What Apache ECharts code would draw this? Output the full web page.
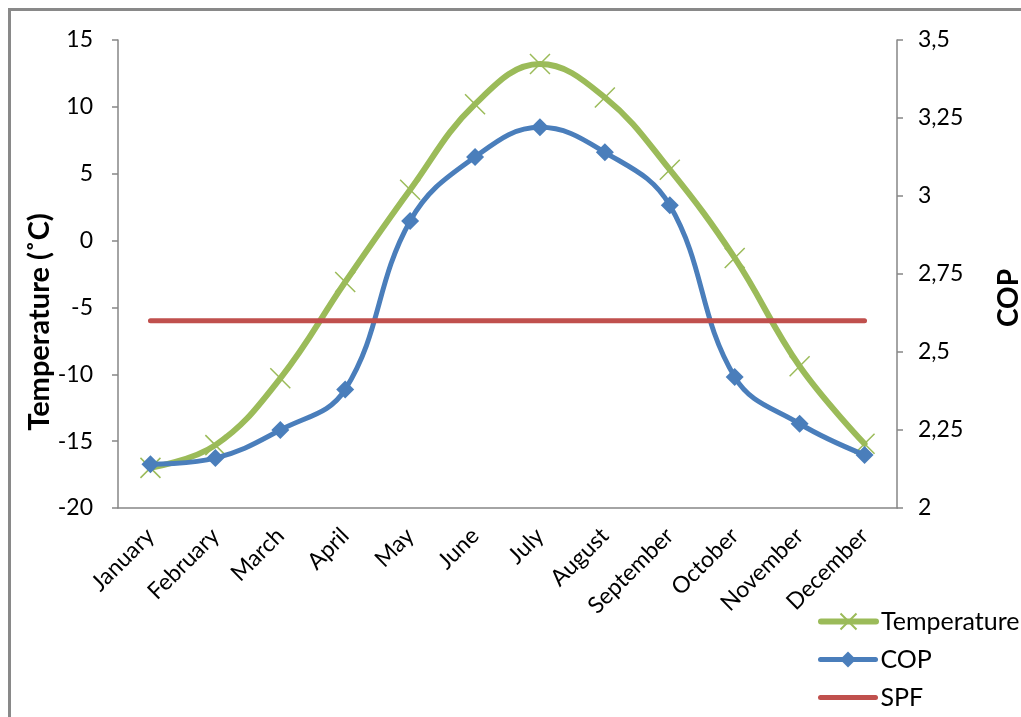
<!DOCTYPE html>
<html>
<head>
<meta charset="utf-8">
<script src="https://cdn.jsdelivr.net/npm/echarts@6/dist/echarts.min.js"></script>
<style>
html,body{margin:0;padding:0;background:#fff;}
#c{width:1021px;height:717px;}
</style>
</head>
<body>
<div id="c"></div>
<script>
const months = ['January','February','March','April','May','June','July','August','September','October','November','December'];
const temperature = [-17.0, -15.3, -10.3, -3.1, 3.8, 10.2, 13.2, 10.7, 5.3, -1.3, -9.4, -15.2];
const cop = [2.14, 2.16, 2.25, 2.38, 2.92, 3.125, 3.22, 3.14, 2.97, 2.42, 2.27, 2.17];
const spf = [2.6, 2.6, 2.6, 2.6, 2.6, 2.6, 2.6, 2.6, 2.6, 2.6, 2.6, 2.6];
const tempTicks = {min: -20, max: 15, interval: 5};
const copTicks = {min: 2, max: 3.5, interval: 0.25};

const FONT = 'Lato, "Open Sans", sans-serif';
const axisColor = '#868686';
const GREEN = '#9BBB59', BLUE = '#4A7EBB', RED = '#C0504D';

function legendAt(top, item) {
  return {
    orient: 'vertical', left: 818, top: top, padding: 0,
    itemWidth: 55, itemHeight: 20,
    textStyle: {fontSize: 25, color: '#000', fontFamily: FONT},
    data: [item]
  };
}

const chart = echarts.init(document.getElementById('c'));
chart.setOption({
  animation: false,
  textStyle: {fontFamily: FONT, color: '#000'},
  grid: {left: 118, right: 124, top: 40, bottom: 209, containLabel: false},
  xAxis: {
    type: 'category', data: months, boundaryGap: true,
    axisLine: {onZero: false, lineStyle: {color: axisColor, width: 1.5}},
    axisTick: {alignWithLabel: true, length: 6, lineStyle: {color: axisColor, width: 1.5}},
    axisLabel: {rotate: 45, margin: 24, fontSize: 23, color: '#000', fontFamily: FONT, interval: 0}
  },
  yAxis: [{
    type: 'value', min: tempTicks.min, max: tempTicks.max, interval: tempTicks.interval,
    axisLine: {show: true, onZero: false, lineStyle: {color: axisColor, width: 1.5}},
    axisTick: {show: true, length: 6, lineStyle: {color: axisColor, width: 1.5}},
    splitLine: {show: false},
    axisLabel: {fontSize: 23, color: '#000', margin: 25, fontFamily: FONT}
  }, {
    type: 'value', min: copTicks.min, max: copTicks.max, interval: copTicks.interval, position: 'right',
    axisLine: {show: true, onZero: false, lineStyle: {color: axisColor, width: 1.5}},
    axisTick: {show: true, length: 6, lineStyle: {color: axisColor, width: 1.5}},
    splitLine: {show: false},
    axisLabel: {fontSize: 23, color: '#000', margin: 21, fontFamily: FONT,
      formatter: v => String(v).replace('.', ',')}
  }],
  legend: [
    legendAt(609, {name: 'Temperature', lineStyle: {width: 6, color: GREEN}}),
    legendAt(647, {name: 'COP', lineStyle: {width: 5, color: BLUE}}),
    legendAt(685, {name: 'SPF', lineStyle: {width: 5, color: RED},
      itemStyle: {color: 'rgba(0,0,0,0)', borderColor: 'rgba(0,0,0,0)', borderWidth: 0}})
  ],
  graphic: [
    {type: 'rect', shape: {x: 8, y: 8, width: 1013, height: 3}, style: {fill: '#898989'}},
    {type: 'rect', shape: {x: 8, y: 8, width: 3, height: 709}, style: {fill: '#898989'}},
    {type: 'text', x: 40, y: 322, rotation: Math.PI / 2,
      style: {text: 'Temperature (˚C)', fontSize: 29, fontWeight: 'bold', fontFamily: FONT, fill: '#000',
        align: 'center', verticalAlign: 'middle'}},
    {type: 'text', x: 1009, y: 298, rotation: Math.PI / 2,
      style: {text: 'COP', fontSize: 28, fontWeight: 'bold', fontFamily: FONT, fill: '#000',
        align: 'center', verticalAlign: 'middle'}}
  ],
  series: [{
    name: 'Temperature', type: 'line', yAxisIndex: 0, data: temperature, smooth: 0.4,
    symbol: 'path://M0,0L10,10M10,0L0,10', symbolSize: 20,
    itemStyle: {color: 'rgba(0,0,0,0)', borderColor: GREEN, borderWidth: 1.5},
    lineStyle: {color: GREEN, width: 6, cap: 'round'}, z: 2
  }, {
    name: 'COP', type: 'line', yAxisIndex: 1, data: cop, smooth: 0.4,
    symbol: 'diamond', symbolSize: 18,
    itemStyle: {color: BLUE},
    lineStyle: {color: BLUE, width: 5, cap: 'round'}, z: 3
  }, {
    name: 'SPF', type: 'line', yAxisIndex: 1, data: spf,
    symbol: 'none', itemStyle: {color: RED},
    lineStyle: {color: RED, width: 5, cap: 'round'}, z: 4
  }]
});
</script>
</body>
</html>
